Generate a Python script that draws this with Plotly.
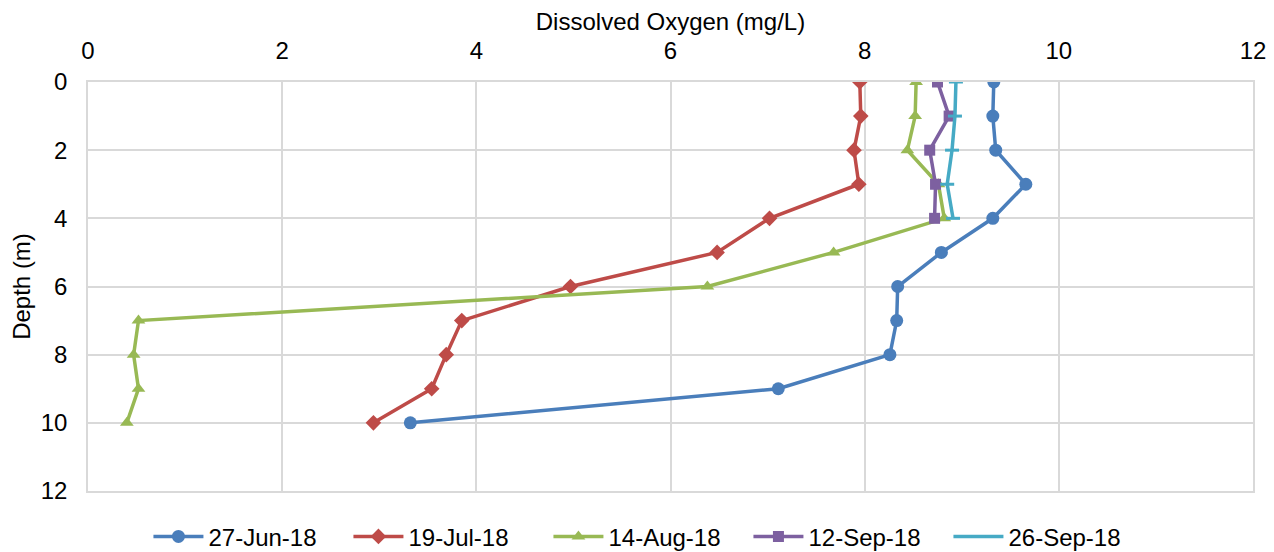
import plotly.graph_objects as go

depth_full = [0, 1, 2, 3, 4, 5, 6, 7, 8, 9, 10]
depth_short = [0, 1, 2, 3, 4]

do_27jun = [9.33, 9.32, 9.35, 9.66, 9.32, 8.79, 8.34, 8.33, 8.26, 7.11, 3.32]
do_19jul = [7.95, 7.96, 7.89, 7.94, 7.02, 6.48, 4.97, 3.85, 3.69, 3.54, 2.94]
do_14aug = [8.53, 8.52, 8.44, 8.76, 8.82, 7.68, 6.38, 0.52, 0.47, 0.52, 0.40]
do_12sep = [8.75, 8.87, 8.67, 8.73, 8.72]
do_26sep = [8.94, 8.93, 8.90, 8.85, 8.91]

series = [
    ("27-Jun-18", do_27jun, depth_full, "#4a7ebb", "circle", 13),
    ("19-Jul-18", do_19jul, depth_full, "#be4b48", "diamond", 12),
    ("14-Aug-18", do_14aug, depth_full, "#98b954", "triangle-up", 12),
    ("12-Sep-18", do_12sep, depth_short, "#7d60a0", "square", 11),
    ("26-Sep-18", do_26sep, depth_short, "#46aac5", "line-ew", 10),
]

fig = go.Figure()
for name, xs, ys, color, sym, size in series:
    fig.add_trace(go.Scatter(
        x=xs, y=ys, name=name, mode="lines+markers",
        line=dict(color=color, width=3.5),
        marker=dict(symbol=sym, size=size, color=color,
                    line=dict(color=color, width=3 if sym == "line-ew" else 0)),
    ))

grid = "#d9d9d9"
FS = 24
fig.update_layout(
    width=1274, height=552,
    paper_bgcolor="white", plot_bgcolor="white",
    margin=dict(l=80, r=29, t=74, b=69),
    font=dict(family="Liberation Sans, Arial, sans-serif", size=FS, color="#000"),
    xaxis=dict(
        side="top", range=[0, 12], dtick=2, showgrid=True, gridcolor=grid,
        gridwidth=1.5, zeroline=False, showline=True, linecolor=grid, linewidth=1.5,
        mirror=True, ticks="", tickfont=dict(size=FS), ticklabelstandoff=12,
        automargin=False,
        title=dict(text="Dissolved Oxygen (mg/L)", font=dict(size=FS), standoff=4),
    ),
    yaxis=dict(
        range=[12, 0], dtick=2, showgrid=True, gridcolor=grid, gridwidth=1.5,
        zeroline=False, showline=True, linecolor=grid, linewidth=1.5, mirror=True,
        ticks="", tickfont=dict(size=FS), ticklabelstandoff=14,
        automargin=False,
        title=dict(text="Depth (m)", font=dict(size=FS), standoff=10),
    ),
    legend=dict(
        orientation="h", x=0.5027, xref="container", xanchor="center",
        y=0.042, yref="container", yanchor="middle", font=dict(size=FS),
        entrywidth=135, entrywidthmode="pixels", itemwidth=50,
    ),
)

fig.write_html("out.html")
